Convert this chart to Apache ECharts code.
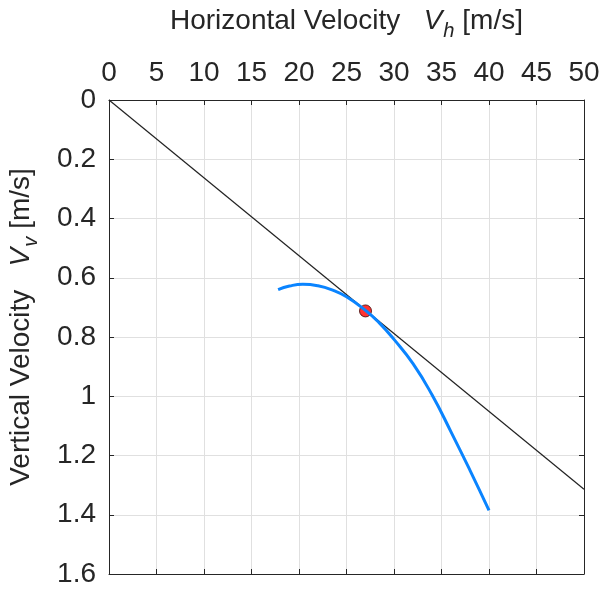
<!DOCTYPE html>
<html>
<head>
<meta charset="utf-8">
<script src="https://cdn.jsdelivr.net/npm/echarts@6/dist/echarts.min.js"></script>
<style>
html, body { margin: 0; padding: 0; background: #fff; }
#chart { width: 601px; height: 590px; }
</style>
</head>
<body>
<div id="chart"></div>
<script>
// curve: [Vh, Vv]
var curveData = [
    [17.8, 0.64], [19.0, 0.628], [20.4, 0.622], [22.0, 0.627], [23.5, 0.641],
    [25.0, 0.664], [27.0, 0.71], [28.5, 0.754], [30.0, 0.808], [32.0, 0.89],
    [34.0, 0.995], [36.0, 1.12], [38.0, 1.25], [40.0, 1.385]
];
var lineData = [[0, 0], [50, 1.314]];
var pointData = [[27.0, 0.712]];

var myChart = echarts.init(document.getElementById("chart"));
var font = "Liberation Sans";
var axisColor = '#262626';
var textColor = '#262626';
var nameRich = function (size) {
    return {
        n: { fontSize: size, fontFamily: font, color: textColor },
        v: { fontSize: size, fontFamily: font, fontStyle: 'italic', color: textColor },
        s: { fontSize: size * 0.72, fontFamily: font, fontStyle: 'italic', color: textColor, padding: [size * 0.7, 0, 0, 1] }
    };
};
var option = {
    animation: false,
    grid: { left: 109, right: 17, top: 100, bottom: 16, outerBoundsMode: 'none' },
    xAxis: [
        {
            type: 'value', position: 'top', min: 0, max: 50, interval: 5,
            name: '{n|Horizontal Velocity   }{v|V}{s|h}{n| [m/s]}',
            nameLocation: 'middle', nameGap: 59,
            nameTextStyle: { rich: nameRich(28) },
            axisLine: { show: true, lineStyle: { color: axisColor, width: 1 } },
            axisTick: { show: true, inside: true, length: 5, lineStyle: { color: axisColor } },
            axisLabel: { fontSize: 28, fontFamily: font, color: textColor, margin: 13 },
            splitLine: { show: true, lineStyle: { color: '#e0e0e0', width: 1 } }
        },
        {
            type: 'value', position: 'bottom', min: 0, max: 50, interval: 5,
            axisLine: { show: true, onZero: false, lineStyle: { color: axisColor, width: 1 } },
            axisTick: { show: true, inside: true, length: 5, lineStyle: { color: axisColor } },
            axisLabel: { show: false },
            splitLine: { show: false }
        }
    ],
    yAxis: [
        {
            type: 'value', inverse: true, min: 0, max: 1.6, interval: 0.2,
            name: '{n|Vertical Velocity   }{v|V}{s|v}{n| [m/s]}',
            nameLocation: 'middle', nameGap: 68,
            nameTextStyle: { rich: nameRich(28), padding: [0, 0, 0, 20] },
            axisLine: { show: true, lineStyle: { color: axisColor, width: 1 } },
            axisTick: { show: true, inside: true, length: 5, lineStyle: { color: axisColor } },
            axisLabel: { fontSize: 28, fontFamily: font, color: textColor, margin: 13 },
            splitLine: { show: true, lineStyle: { color: '#e0e0e0', width: 1 } }
        },
        {
            type: 'value', position: 'right', inverse: true, min: 0, max: 1.6, interval: 0.2,
            axisLine: { show: true, onZero: false, lineStyle: { color: axisColor, width: 1 } },
            axisTick: { show: true, inside: true, length: 5, lineStyle: { color: axisColor } },
            axisLabel: { show: false },
            splitLine: { show: false }
        }
    ],
    series: [
        {
            type: 'line', data: lineData, showSymbol: false, silent: true,
            lineStyle: { color: '#222', width: 1.2 }
        },
        {
            type: 'line', data: curveData, smooth: true, showSymbol: false, silent: true,
            lineStyle: { color: '#0a84ff', width: 3 }
        },
        {
            type: 'scatter', data: pointData, symbolSize: 12,
            itemStyle: { color: '#ff0000', borderColor: '#3a0000', borderWidth: 1 }
        }
    ]
};
myChart.setOption(option);
window.addEventListener("resize", function(){
    myChart.resize();
});
</script>
</body>
</html>
